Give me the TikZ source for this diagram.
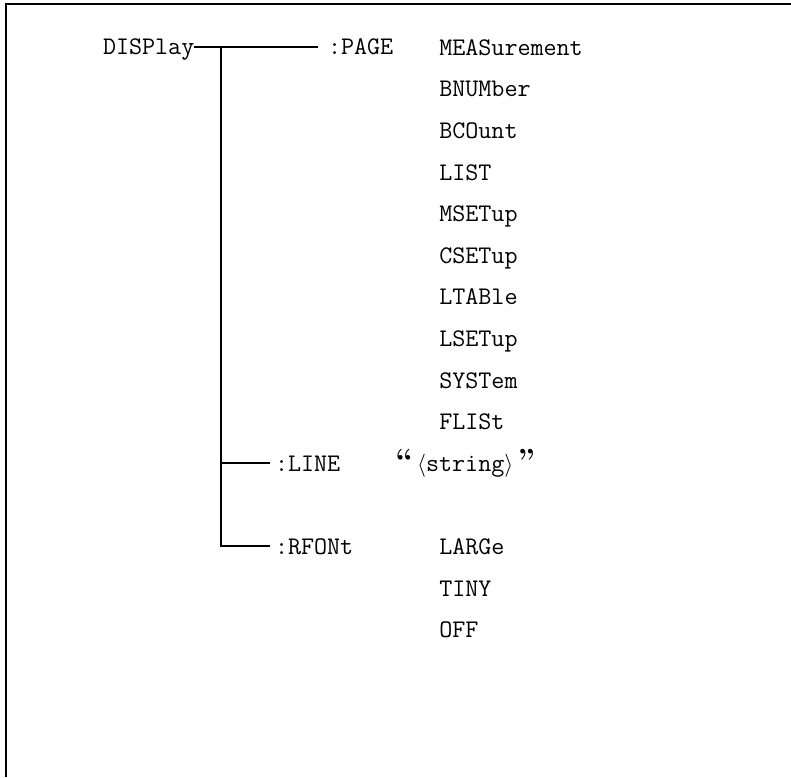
\documentclass[tikz,border=0pt]{standalone}
\usetikzlibrary{matrix,positioning}
\tikzset{
  cmd/.style={font=\ttfamily\fontsize{19}{19}\selectfont, inner sep=0pt, outer sep=0pt,
    text height=12pt, text depth=0pt, anchor=west},
  tree/.style={line width=1.2pt},
}
\newcommand{\qmark}[1]{{\rmfamily\bfseries\fontsize{24}{24}\selectfont #1}}

\begin{document}
\begin{tikzpicture}[x=0.75pt, y=-0.75pt]
\useasboundingbox (0,0) rectangle (791,777);
% frame
\draw[tree] (6,777) -- (6,4) -- (791,4);
% command tree
\node[cmd] (disp) at (103,47) {DISPlay};
\node[cmd] (page) at (328,47) {:PAGE};
\matrix (opt) [matrix of nodes, nodes={cmd}, row sep=19.2pt, inner sep=0pt,
  anchor=north west, nodes in empty cells] at (439,39) {
MEASurement \\
BNUMber \\
BCOunt \\
LIST \\
MSETup \\
CSETup \\
LTABle \\
LSETup \\
SYSTem \\
FLISt \\
\\
\\
LARGe \\
TINY \\
OFF \\
};
\node[cmd] (str) at ([xshift=-33pt]opt-11-1.west)
  {\qmark{“}\,$\langle$string$\rangle$\,\qmark{”}};
\node[cmd] (line) at (275,463) {:LINE};
\node[cmd] (rfont) at (275,546) {:RFONt};
\coordinate (fork) at (221,47);
\draw[tree] (disp.east) -- ([xshift=-7.5pt]page.west);
\draw[tree] (fork) -- (fork |- rfont.west) -- ([xshift=-3.75pt]rfont.west);
\draw[tree] (fork |- line.west) -- ([xshift=-3.75pt]line.west);
\end{tikzpicture}
\end{document}
